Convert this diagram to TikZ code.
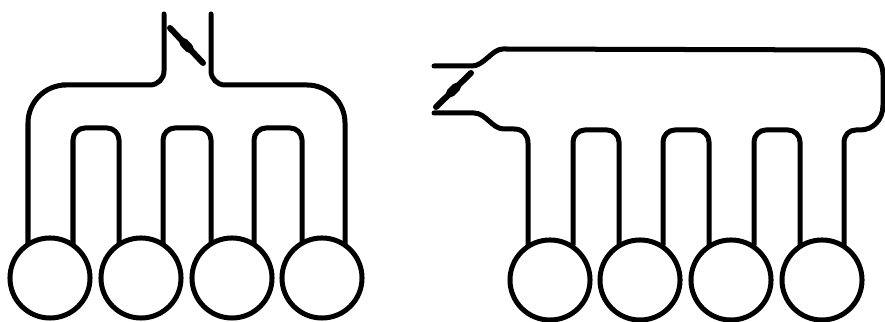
\documentclass[tikz,border=0pt]{standalone}
\usetikzlibrary{calc}
\tikzset{
  duct/.style={line width=0.05cm, line cap=round, line join=round},
  cylinder/.style={circle, draw, line width=0.05cm, fill=white, minimum size=0.80cm, inner sep=0pt},
  flap/.style={line width=0.06cm, line cap=round},
  hub/.style={line width=0.09cm, line cap=round}
}
\begin{document}
\begin{tikzpicture}[x=0.01cm, y=-0.01cm]
\useasboundingbox (0,0) rectangle (885,322);
% left: throttle on top
\draw[duct, rounded corners=0.38cm] (28,245) -- (28,85) -- (100,85) [rounded corners=0.14cm] -- (164,85) -- (164,14);
\draw[duct, rounded corners=0.14cm] (211,14) -- (211,85) -- (280,85) [rounded corners=0.38cm] -- (345,85) -- (345,245);
\foreach \xa/\xb in {73/119, 163/211, 254/302}
  \draw[duct, rounded corners=0.12cm] (\xa,245) -- (\xa,128) -- (\xb,128) -- (\xb,245);
\foreach \i/\x in {1/50, 2/141, 3/232, 4/322}
  \node[cylinder] (lcyl\i) at (\x,278) {};
\coordinate (lflapa) at (170,28);
\coordinate (lflapb) at (203,63);
\draw[flap] (lflapa) -- (lflapb);
\draw[hub] ($(lflapa)!0.42!(lflapb)$) -- ($(lflapa)!0.58!(lflapb)$);
% right: throttle on the side
\draw[duct] (434,66) -- (472,66) .. controls (484,66) and (492,49) .. (503,49) -- (860,50)
  .. controls (875,50) and (883,62) .. (883,75) -- (883,105) .. controls (883,120) and (873,130) .. (860,130)
  -- (856,130) .. controls (849,130) and (844,135) .. (844,143) -- (844,245);
\draw[duct] (434,113) -- (474,113) .. controls (486,113) and (492,129) .. (504,129) -- (514,129)
  .. controls (523,129) and (528,135) .. (528,143) -- (528,245);
\foreach \xa/\xb in {573/619, 663/709, 754/800}
  \draw[duct, rounded corners=0.12cm] (\xa,245) -- (\xa,130) -- (\xb,130) -- (\xb,245);
\foreach \i/\x in {1/550, 2/640, 3/731, 4/822}
  \node[cylinder] (rcyl\i) at (\x,280) {};
\coordinate (rflapa) at (471,73);
\coordinate (rflapb) at (436,107);
\draw[flap] (rflapa) -- (rflapb);
\draw[hub] ($(rflapa)!0.42!(rflapb)$) -- ($(rflapa)!0.58!(rflapb)$);
\end{tikzpicture}
\end{document}
